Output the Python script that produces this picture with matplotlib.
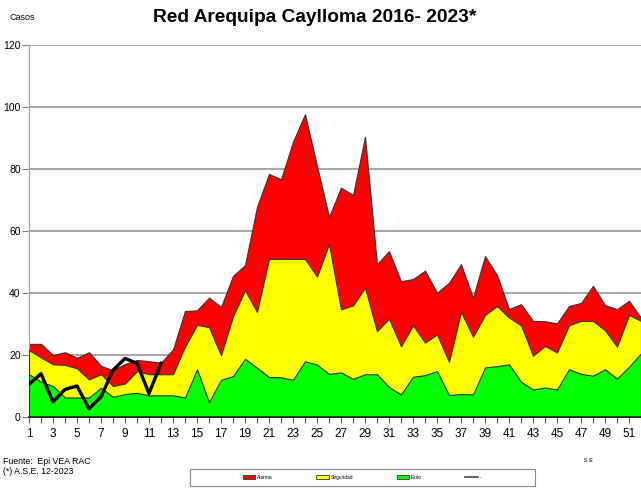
import matplotlib
matplotlib.use('Agg')
import matplotlib.pyplot as plt
import numpy as np
from matplotlib.patches import Patch, Rectangle
from matplotlib.lines import Line2D

plt.rcParams['font.family'] = ['Liberation Sans', 'DejaVu Sans']

# semanas epidemiologicas
weeks = np.arange(1, 53)

# canal endemico (limites)
alarma = [23.6, 23.6, 20.0, 20.9, 19.1, 20.9, 16.5, 15.1, 17.1, 18.4,
          18.0, 17.5, 21.8, 34.2, 34.4, 38.5, 35.5, 45.5, 49.0, 67.8,
          78.4, 76.7, 88.8, 97.7, 81.0, 64.6, 74.0, 71.6, 90.4, 49.3,
          53.5, 43.8, 44.5, 47.2, 40.1, 43.3, 49.3, 38.5, 51.9, 45.8,
          34.8, 36.4, 31.0, 30.9, 30.2, 35.8, 36.8, 42.3, 36.1, 34.8,
          37.5, 32.0]
seguridad = [21.6, 19.2, 17.0, 16.8, 15.7, 12.1, 13.8, 10.0, 10.8, 14.8,
             13.8, 13.8, 13.8, 22.7, 29.7, 29.0, 19.9, 32.5, 40.9, 33.9,
             51.0, 51.0, 51.0, 51.0, 45.3, 55.8, 34.7, 36.0, 41.7, 27.7,
             31.7, 22.8, 29.6, 24.0, 26.6, 17.8, 33.9, 25.9, 32.9, 35.8,
             32.1, 29.6, 19.8, 22.9, 20.8, 29.6, 31.0, 31.0, 28.0, 22.7,
             32.9, 31.0]
exito = [13.8, 11.4, 10.0, 6.3, 6.3, 6.3, 9.4, 6.5, 7.4, 7.8,
         7.0, 7.0, 7.0, 6.3, 15.4, 4.8, 12.0, 13.2, 18.8, 15.9,
         12.9, 12.8, 12.0, 18.0, 16.9, 13.9, 14.4, 12.3, 13.8, 13.8,
         9.7, 7.3, 13.0, 13.5, 14.8, 7.1, 7.4, 7.3, 16.0, 16.4,
         17.0, 11.4, 8.9, 9.5, 8.9, 15.4, 13.9, 13.3, 15.4, 12.4,
         16.2, 20.5]

# casos 2023
weeks_2023 = np.arange(1, 13)
casos_2023 = [10.5, 14.0, 4.9, 8.9, 10.0, 2.7, 6.5, 15.1, 18.9, 17.3, 7.6, 17.3]

fig = plt.figure(figsize=(6.41, 4.97), dpi=100)
ax = fig.add_axes([29/641, 1 - 417/497, 1 - 29/641, (417 - 45)/497])

edge = '#333333'
ax.fill_between(weeks, 0, alarma, color='#ff0000', edgecolor=edge, linewidth=0.8, zorder=2)
ax.fill_between(weeks, 0, seguridad, color='#ffff00', edgecolor=edge, linewidth=0.8, zorder=3)
ax.fill_between(weeks, 0, exito, color='#00ff00', edgecolor=edge, linewidth=0.8, zorder=4)
ax.plot(weeks_2023, casos_2023, color='black', linewidth=2.4, zorder=5)

ax.set_xlim(1, 51.55)
ax.set_ylim(0, 120)
ax.set_yticks(np.arange(0, 121, 20))
ax.set_xticks(weeks)
ax.set_xticklabels([str(w) if w % 2 == 1 else '' for w in weeks])
ax.yaxis.grid(True, color='#a0a0a0', linewidth=1.3, zorder=0)
ax.set_axisbelow(True)

for s in ['top', 'right']:
    ax.spines[s].set_visible(False)
ax.spines['left'].set_color('#a0a0a0')
ax.spines['bottom'].set_color('#222222')
ax.spines['bottom'].set_linewidth(1.2)
ax.spines['bottom'].set_zorder(6)
ax.tick_params(axis='y', length=5, color='#808080', labelsize=7.5, pad=1)
ax.tick_params(axis='x', length=4, color='#555555', labelsize=8.5, pad=4)

fig.text(315/641, 1 - 18/497, 'Red Arequipa Caylloma 2016- 2023*', ha='center', va='center',
         fontsize=13.8, fontweight='bold')
fig.text(10/641, 1 - 18/497, 'Casos', ha='left', va='center', fontsize=6.5)
fig.text(3/641, 1 - 462/497, 'Fuente:  Epi VEA RAC', ha='left', va='center', fontsize=6.3)
fig.text(3/641, 1 - 472/497, '(*) A.S.E. 12-2023', ha='left', va='center', fontsize=6.3)
fig.text(588/641, 1 - 461/497, 'S E', ha='center', va='center', fontsize=4)

# marco de la leyenda
fig.patches.append(Rectangle((190/641, 1 - 486/497), 345/641, 17/497, transform=fig.transFigure,
                             facecolor='white', edgecolor='#888888', linewidth=0.8))
handles = [Patch(facecolor='#ff0000', edgecolor=edge, linewidth=0.6, label='Alarma'),
           Patch(facecolor='#ffff00', edgecolor=edge, linewidth=0.6, label='Seguridad'),
           Patch(facecolor='#00ff00', edgecolor=edge, linewidth=0.6, label='Exito'),
           Line2D([], [], color='#444444', linewidth=1.2, label='-')]
fig.legend(handles=handles, loc='center', bbox_to_anchor=(362/641, 1 - 477.5/497), ncol=4,
           frameon=False, fontsize=3.5, handlelength=2.6, handleheight=0.9,
           columnspacing=9, handletextpad=0.3)

fig.savefig('out.png', dpi=100)
